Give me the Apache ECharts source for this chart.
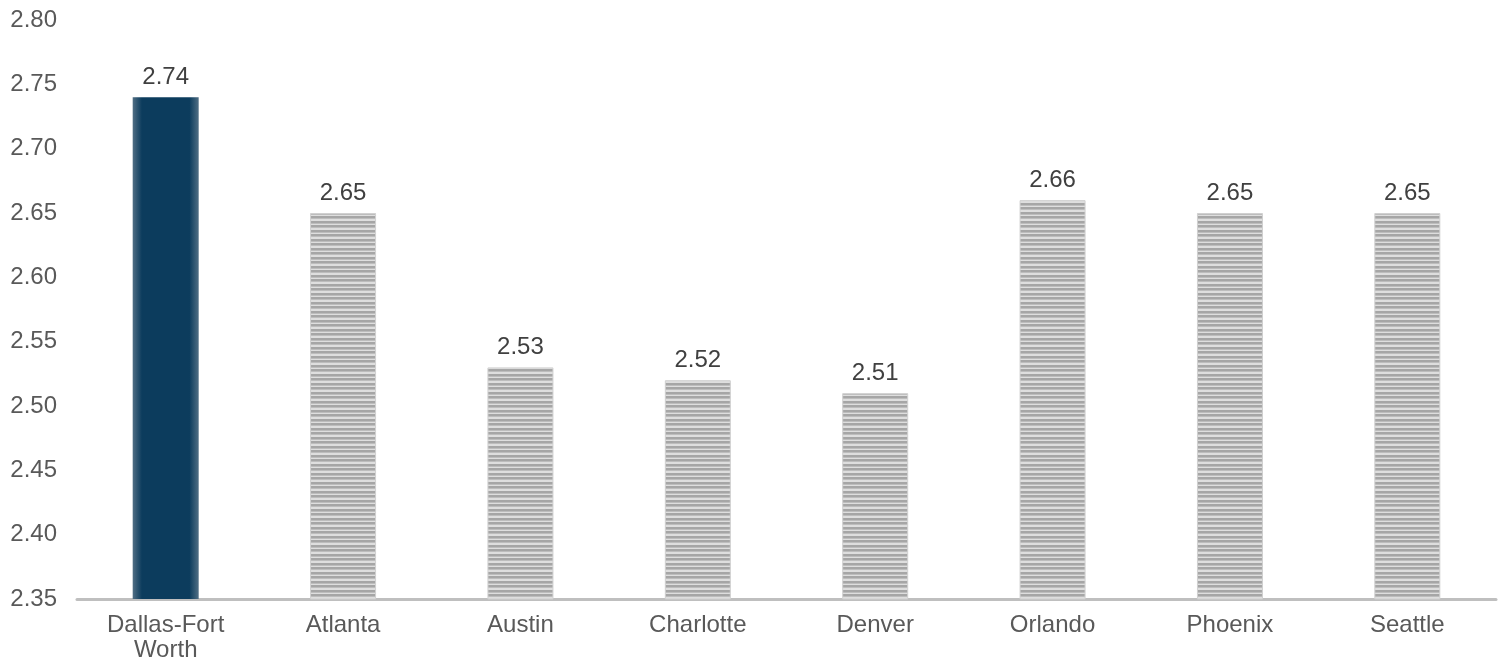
<!DOCTYPE html>
<html><head><meta charset="utf-8">
<script src="https://cdn.jsdelivr.net/npm/echarts@6/dist/echarts.min.js"></script>
<style>html,body{margin:0;padding:0;background:#fff}#c{width:1507px;height:664px}</style>
</head><body><div id="c"></div>
<script>
var categories = ['Dallas-Fort\nWorth','Atlanta','Austin','Charlotte','Denver','Orlando','Phoenix','Seattle'];
var values = [2.74, 2.65, 2.53, 2.52, 2.51, 2.66, 2.65, 2.65];

var pc = document.createElement('canvas');
pc.width = 4; pc.height = 9;
var ctx = pc.getContext('2d');
ctx.fillStyle = '#dedede'; ctx.fillRect(0,0,4,9);
ctx.fillStyle = '#a6a6a6'; ctx.fillRect(0,0,4,2); ctx.fillRect(0,5,4,2);
ctx.fillStyle = '#bdbdbd'; ctx.fillRect(0,2,4,1); ctx.fillRect(0,7,4,1);

var blue = {type:'linear',x:0,y:0,x2:1,y2:0,colorStops:[
  {offset:0,color:'#506e84'},{offset:0.14,color:'#0c3c5d'},{offset:0.86,color:'#0c3c5d'},{offset:1,color:'#506e84'}]};

var font = 'Liberation Sans, Arial, sans-serif';
var data = values.map(function(v,i){
  return {value:v, itemStyle: i===0 ? {color: blue} : {color:{image: pc, repeat:'repeat'}, borderColor:'#d0d0d0', borderWidth:1}};
});

var chart = echarts.init(document.getElementById('c'));
chart.setOption({
  animation:false,
  grid:{left:77,right:11,top:20,bottom:65,containLabel:false},
  xAxis:{type:'category',data:categories,
    axisLine:{lineStyle:{color:'#bfbfbf',width:3}},
    axisTick:{show:false},
    axisLabel:{color:'#595959',fontSize:24,fontFamily:font,margin:14,lineHeight:25}},
  yAxis:{type:'value',min:2.35,max:2.80,interval:0.05,
    axisLine:{show:false},axisTick:{show:false},splitLine:{show:false},
    axisLabel:{color:'#595959',fontSize:24,fontFamily:font,margin:20,
      formatter:function(v){return v.toFixed(2);}}},
  series:[{type:'bar',data:data,barWidth:66,
    label:{show:true,position:'top',distance:8,color:'#404040',fontSize:24,fontFamily:font,
      formatter:function(p){return p.value.toFixed(2);}}}]
});
</script></body></html>
